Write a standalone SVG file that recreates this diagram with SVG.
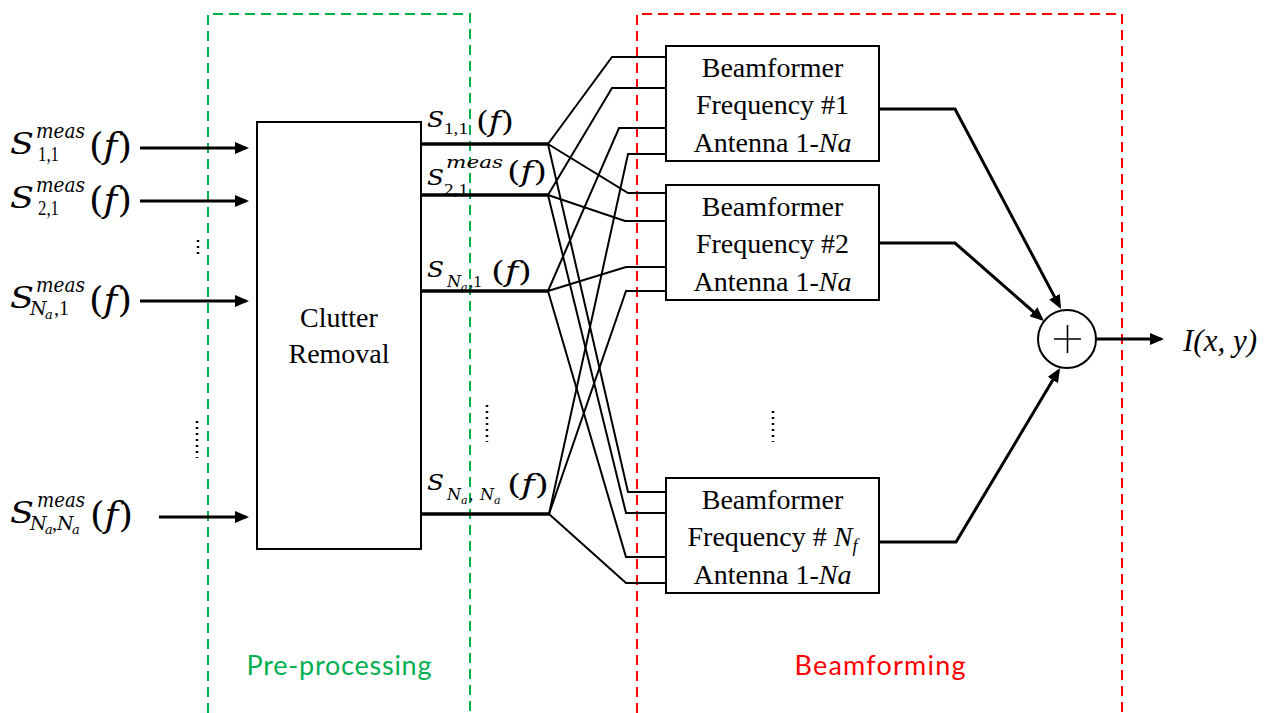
<svg xmlns="http://www.w3.org/2000/svg" width="1279" height="713" viewBox="0 0 1279 713">
  <style>
    .box { fill: #fff; stroke: #000; stroke-width: 2; }
    .lbl { font-family: "Liberation Serif", "Times New Roman", serif; font-size: 28px; fill: #000; text-anchor: middle; }
    .mi { font-family: "DejaVu Serif", serif; font-style: italic; fill: #000; }
    .mu { font-family: "DejaVu Serif", serif; font-style: normal; fill: #000; }
    .dg { font-family: "Liberation Serif", serif; font-style: normal; fill: #000; }
    .in { stroke: #000; stroke-width: 3; fill: none; }
    .bus { stroke: #000; stroke-width: 3.5; fill: none; }
    .wire { stroke: #000; stroke-width: 2; fill: none; stroke-linejoin: miter; }
    .dots { stroke: #000; stroke-width: 2.5; stroke-dasharray: 2 4; }
    .region { fill: none; stroke-width: 2; stroke-dasharray: 10 6; }
    .cap { font-family: Lato, "Liberation Sans", sans-serif; font-size: 27px; text-anchor: middle; }
  </style>
  <defs>
    <marker id="ah" markerWidth="14" markerHeight="12" refX="11" refY="6" orient="auto" markerUnits="userSpaceOnUse">
      <path d="M0,0 L14,6 L0,12 z" fill="#000"/>
    </marker>
  </defs>

  <rect width="1279" height="713" fill="#fff"/>

  <!-- processing stage outlines -->
  <g id="stage-preprocessing">
    <path class="region" stroke="#00B050" d="M208,713 V14 H470 V713"/>
    <text class="cap" fill="#00B050" x="339" y="675" textLength="185">Pre-processing</text>
  </g>
  <g id="stage-beamforming">
    <path class="region" stroke="#FF0000" d="M637,713 V14 H1122 V713"/>
    <text class="cap" fill="#FF0000" x="880" y="675" textLength="171">Beamforming</text>
  </g>

  <!-- measured input signals -->
  <g id="input-labels">
    <g id="in-11">
      <text class="mi" x="10" y="154" font-size="30" textLength="24" lengthAdjust="spacingAndGlyphs">S</text>
      <text class="mi" x="36" y="138" font-size="20" textLength="49" lengthAdjust="spacingAndGlyphs">meas</text>
      <text class="dg" x="38" y="161" font-size="20" textLength="21" lengthAdjust="spacingAndGlyphs">1,1</text>
      <text class="mu" x="89" y="158" font-size="36" textLength="43" lengthAdjust="spacingAndGlyphs">(<tspan class="mi">f</tspan>)</text>
    </g>
    <g id="in-21">
      <text class="mi" x="10" y="208" font-size="30" textLength="24" lengthAdjust="spacingAndGlyphs">S</text>
      <text class="mi" x="36" y="192" font-size="20" textLength="49" lengthAdjust="spacingAndGlyphs">meas</text>
      <text class="dg" x="38" y="215" font-size="20" textLength="21" lengthAdjust="spacingAndGlyphs">2,1</text>
      <text class="mu" x="89" y="212" font-size="36" textLength="43" lengthAdjust="spacingAndGlyphs">(<tspan class="mi">f</tspan>)</text>
    </g>
    <g id="in-na1">
      <text class="mi" x="10" y="308" font-size="30" textLength="24" lengthAdjust="spacingAndGlyphs">S</text>
      <text class="mi" x="36" y="292" font-size="20" textLength="49" lengthAdjust="spacingAndGlyphs">meas</text>
      <text class="mi" x="30" y="315" font-size="19">N</text>
      <text class="mi" x="45" y="319" font-size="13">a</text>
      <text class="dg" x="54" y="315" font-size="20">,1</text>
      <text class="mu" x="89" y="312" font-size="36" textLength="43" lengthAdjust="spacingAndGlyphs">(<tspan class="mi">f</tspan>)</text>
    </g>
    <g id="in-nana">
      <text class="mi" x="10" y="523" font-size="30" textLength="24" lengthAdjust="spacingAndGlyphs">S</text>
      <text class="mi" x="37" y="507" font-size="20" textLength="48" lengthAdjust="spacingAndGlyphs">meas</text>
      <text class="mi" x="30" y="530" font-size="19">N</text>
      <text class="mi" x="45" y="534" font-size="13">a</text>
      <text class="dg" x="52" y="530" font-size="20">,</text>
      <text class="mi" x="57" y="530" font-size="19">N</text>
      <text class="mi" x="72" y="534" font-size="13">a</text>
      <text class="mu" x="90" y="527" font-size="36" textLength="43" lengthAdjust="spacingAndGlyphs">(<tspan class="mi">f</tspan>)</text>
    </g>
    <line class="dots" x1="198" y1="240" x2="198" y2="256"/>
    <line class="dots" x1="197" y1="421" x2="197" y2="458"/>
  </g>

  <!-- clutter removal block -->
  <g id="clutter-removal">
    <rect class="box" x="257" y="122" width="164" height="427"/>
    <text class="lbl" x="339" y="327">Clutter</text>
    <text class="lbl" x="339" y="363">Removal</text>
  </g>

  <!-- cleaned signal labels -->
  <g id="output-labels">
    <g id="out-11">
      <text class="mi" x="427" y="127" font-size="23" textLength="17" lengthAdjust="spacingAndGlyphs">S</text>
      <text class="dg" x="444" y="134" font-size="17" textLength="24" lengthAdjust="spacingAndGlyphs">1,1</text>
      <text class="mu" x="476" y="131" font-size="28" textLength="38" lengthAdjust="spacingAndGlyphs">(<tspan class="mi">f</tspan>)</text>
    </g>
    <g id="out-21">
      <text class="mi" x="427" y="185" font-size="23" textLength="17" lengthAdjust="spacingAndGlyphs">S</text>
      <text class="mi" x="446" y="168" font-size="16" textLength="57" lengthAdjust="spacingAndGlyphs">meas</text>
      <text class="dg" x="444" y="195" font-size="17" textLength="24" lengthAdjust="spacingAndGlyphs">2,1</text>
      <text class="mu" x="507" y="181" font-size="28" textLength="40" lengthAdjust="spacingAndGlyphs">(<tspan class="mi">f</tspan>)</text>
    </g>
    <g id="out-na1">
      <text class="mi" x="427" y="277" font-size="23" textLength="17" lengthAdjust="spacingAndGlyphs">S</text>
      <text class="mi" x="447" y="287" font-size="16">N</text>
      <text class="mi" x="461" y="291" font-size="11">a</text>
      <text class="dg" x="469" y="287" font-size="17">,1</text>
      <text class="mu" x="491" y="281" font-size="28" textLength="41" lengthAdjust="spacingAndGlyphs">(<tspan class="mi">f</tspan>)</text>
    </g>
    <g id="out-nana">
      <text class="mi" x="427" y="490" font-size="23" textLength="17" lengthAdjust="spacingAndGlyphs">S</text>
      <text class="mi" x="447" y="500" font-size="16">N</text>
      <text class="mi" x="461" y="504" font-size="11">a</text>
      <text class="dg" x="469" y="500" font-size="17">,</text>
      <text class="mi" x="480" y="500" font-size="16">N</text>
      <text class="mi" x="494" y="504" font-size="11">a</text>
      <text class="mu" x="507" y="494" font-size="28" textLength="42" lengthAdjust="spacingAndGlyphs">(<tspan class="mi">f</tspan>)</text>
    </g>
  </g>

  <!-- beamformer blocks -->
  <g id="beamformer-1">
    <rect class="box" x="666" y="46" width="213" height="115"/>
    <text class="lbl" x="772.5" y="77">Beamformer</text>
    <text class="lbl" x="772.5" y="114">Frequency #1</text>
    <text class="lbl" x="772.5" y="152">Antenna 1-<tspan font-style="italic">Na</tspan></text>
  </g>
  <g id="beamformer-2">
    <rect class="box" x="666" y="185" width="213" height="115"/>
    <text class="lbl" x="772.5" y="216">Beamformer</text>
    <text class="lbl" x="772.5" y="253">Frequency #2</text>
    <text class="lbl" x="772.5" y="291">Antenna 1-<tspan font-style="italic">Na</tspan></text>
  </g>
  <g id="beamformer-nf">
    <rect class="box" x="666" y="478" width="213" height="115"/>
    <text class="lbl" x="772.5" y="509">Beamformer</text>
    <text class="lbl" x="772.5" y="546">Frequency # <tspan font-style="italic">N</tspan><tspan font-style="italic" font-size="18" dy="6">f</tspan></text>
    <text class="lbl" x="772.5" y="584">Antenna 1-<tspan font-style="italic">Na</tspan></text>
  </g>
  <line class="dots" x1="773" y1="411" x2="773" y2="442"/>

  <!-- summing junction -->
  <g id="sum">
    <circle cx="1067" cy="339" r="29" fill="#fff" stroke="#000" stroke-width="2"/>
    <path d="M1054,339 H1081 M1067.5,325 V353" stroke="#000" stroke-width="1.6"/>
  </g>
  <g id="image-output">
    <text x="1183" y="351" font-family="Liberation Serif, serif" font-style="italic" font-size="31">I(x, y)</text>
  </g>

  <!-- connectors -->
  <g id="connectors">
    <line class="in" x1="140" y1="148" x2="246" y2="148" marker-end="url(#ah)"/>
    <line class="in" x1="140" y1="201" x2="246" y2="201" marker-end="url(#ah)"/>
    <line class="in" x1="140" y1="301" x2="246" y2="301" marker-end="url(#ah)"/>
    <line class="in" x1="159" y1="517" x2="246" y2="517" marker-end="url(#ah)"/>

    <line class="bus" x1="421" y1="144" x2="548" y2="144"/>
    <line class="bus" x1="421" y1="195" x2="548" y2="195"/>
    <line class="bus" x1="421" y1="291" x2="548" y2="291"/>
    <line class="bus" x1="421" y1="514" x2="549" y2="514"/>

    <!-- fan-out of each channel to every beamformer -->
    <polyline class="wire" points="548,144 612,57 666,57"/>
    <polyline class="wire" points="548,144 628,193 666,193"/>
    <polyline class="wire" points="548,144 628,492 666,492"/>
    <polyline class="wire" points="548,195 612,88 666,88"/>
    <polyline class="wire" points="548,195 625,221 666,221"/>
    <polyline class="wire" points="548,195 626,513 666,513"/>
    <polyline class="wire" points="548,291 619,128 666,128"/>
    <polyline class="wire" points="548,291 626,267 666,267"/>
    <polyline class="wire" points="548,291 626,557 666,557"/>
    <polyline class="wire" points="549,514 628,154 666,154"/>
    <polyline class="wire" points="549,514 626,291 666,291"/>
    <polyline class="wire" points="549,514 626,583 666,583"/>
    <line class="dots" x1="487" y1="405" x2="487" y2="442"/>

    <polyline class="in" points="879,109 955,109 1059.6,306.4" marker-end="url(#ah)"/>
    <polyline class="in" points="879,243 955,243 1041.7,319" marker-end="url(#ah)"/>
    <polyline class="in" points="879,542 956,542 1058.5,370.6" marker-end="url(#ah)"/>
    <line class="in" x1="1096" y1="339" x2="1161" y2="339" marker-end="url(#ah)"/>
  </g>
</svg>
